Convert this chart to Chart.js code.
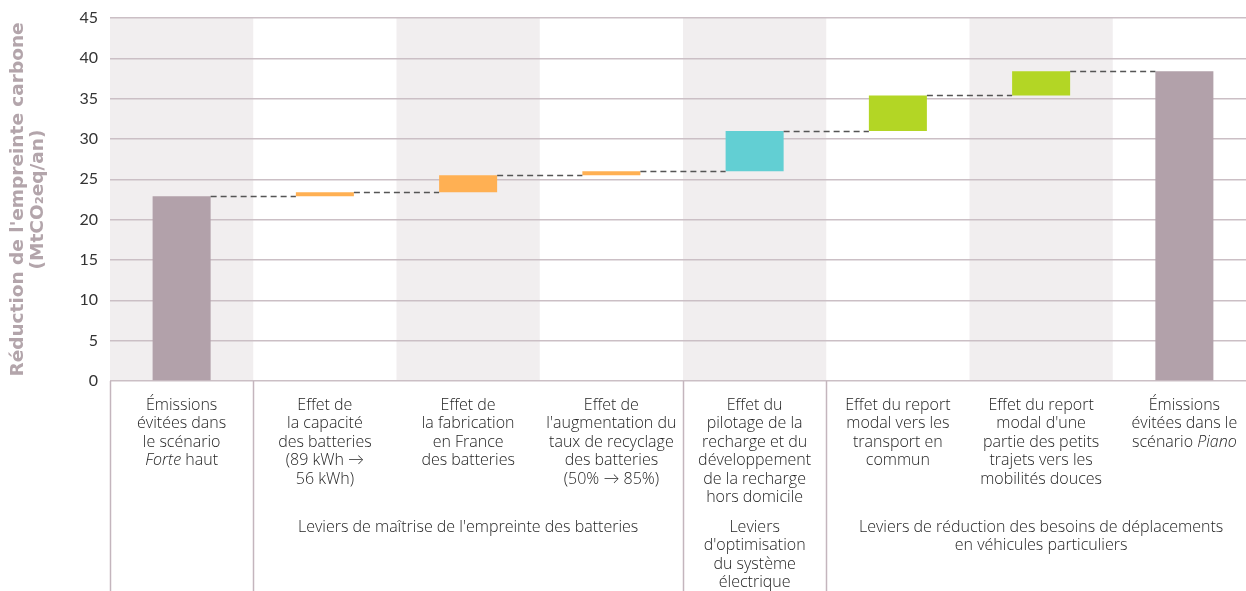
<!DOCTYPE html>
<html>
<head>
<meta charset="utf-8">
<script src="https://cdn.jsdelivr.net/npm/chart.js@4/dist/chart.umd.min.js"></script>
<style>
  html, body { margin: 0; padding: 0; background: #fff; overflow: hidden; }
  canvas { display: block; }
</style>
</head>
<body>
<canvas id="wf" width="1256" height="591"></canvas>
<script>
// categories (short names) and floating bar bounds, in MtCO2eq/an
const categories = ["Forte haut", "Capacité", "Fabrication", "Recyclage", "Pilotage", "Report TC", "Mobilités douces", "Piano"];
const barStart = [0, 22.9, 23.4, 25.5, 26.0, 31.0, 35.4, 0];
const barEnd = [22.9, 23.4, 25.5, 26.0, 31.0, 35.4, 38.4, 38.4];
const barColors = ["#b2a1aa", "#ffb053", "#ffb053", "#ffb053", "#62cfd3", "#b3d625", "#b3d625", "#b2a1aa"];
const yTicks = [0, 5, 10, 15, 20, 25, 30, 35, 40, 45];

// x-axis texts, *word* = italic
const catLabels = [
  ["Émissions", "évitées dans", "le scénario", "*Forte* haut"],
  ["Effet de", "la capacité", "des batteries", "(89 kWh →", "56 kWh)"],
  ["Effet de", "la fabrication", "en France", "des batteries"],
  ["Effet de", "l'augmentation du", "taux de recyclage", "des batteries", "(50% → 85%)"],
  ["Effet du", "pilotage de la", "recharge et du", "développement", "de la recharge", "hors domicile"],
  ["Effet du report", "modal vers les", "transport en", "commun"],
  ["Effet du report", "modal d'une", "partie des petits", "trajets vers les", "mobilités douces"],
  ["Émissions", "évitées dans le", "scénario *Piano*"]
];
const groups = [
  { from: 1, to: 3, lines: ["Leviers de maîtrise de l'empreinte des batteries"] },
  { from: 4, to: 4, lines: ["Leviers", "d'optimisation", "du système", "électrique"] },
  { from: 5, to: 7, lines: ["Leviers de réduction des besoins de déplacements", "en véhicules particuliers"] }
];
const dividerAfter = [-1, 0, 3, 4]; // vertical lines below the axis

const FONT = "Lato, 'Open Sans', sans-serif";
const LABEL_FONT = "'Open Sans', Lato, sans-serif";

function catWidth(chart) {
  const x = chart.scales.x;
  return x.getPixelForValue(1) - x.getPixelForValue(0);
}

const bandsPlugin = {
  id: "bands",
  beforeDraw(chart) {
    const { ctx, chartArea } = chart;
    const x = chart.scales.x;
    const w = catWidth(chart);
    ctx.save();
    ctx.fillStyle = "#f1eeef";
    categories.forEach((c, i) => {
      if (i % 2 !== 0) return;
      const cx = x.getPixelForValue(i);
      ctx.fillRect(cx - w / 2, chartArea.top, w, chartArea.bottom - chartArea.top);
    });
    ctx.restore();
  }
};

const connectorPlugin = {
  id: "connectors",
  afterDatasetsDraw(chart) {
    const { ctx } = chart;
    const y = chart.scales.y;
    const bars = chart.getDatasetMeta(0).data;
    ctx.save();
    ctx.strokeStyle = "#555";
    ctx.lineWidth = 1.5;
    ctx.setLineDash([6, 4]);
    for (let i = 0; i < bars.length - 1; i++) {
      const a = bars[i], b = bars[i + 1];
      const py = Math.round(y.getPixelForValue(barEnd[i])) + 0.5;
      ctx.beginPath();
      ctx.moveTo(a.x + a.width / 2, py);
      ctx.lineTo(b.x - b.width / 2, py);
      ctx.stroke();
    }
    ctx.restore();
  }
};

function drawRichLine(ctx, text, cx, cy, size) {
  const parts = text.split("*");
  const fonts = parts.map((p, k) => (k % 2 ? "italic 300 " : "300 ") + size + "px " + LABEL_FONT);
  let total = 0;
  parts.forEach((p, k) => { ctx.font = fonts[k]; total += ctx.measureText(p).width; });
  let xx = cx - total / 2;
  ctx.textAlign = "left";
  parts.forEach((p, k) => {
    ctx.font = fonts[k];
    ctx.fillText(p, xx, cy);
    xx += ctx.measureText(p).width;
  });
}

const labelsPlugin = {
  id: "xlabels",
  afterDraw(chart) {
    const { ctx, chartArea, height } = chart;
    const x = chart.scales.x;
    const w = catWidth(chart);
    const lh = 18.5;
    ctx.save();
    // dividers
    ctx.strokeStyle = "#c4b5bd";
    ctx.lineWidth = 1.5;
    dividerAfter.forEach(i => {
      const px = Math.round(x.getPixelForValue(i) + w / 2) + 0.5;
      ctx.beginPath();
      ctx.moveTo(px, chartArea.bottom);
      ctx.lineTo(px, height);
      ctx.stroke();
    });
    ctx.fillStyle = "#1e1e1e";
    ctx.textBaseline = "middle";
    catLabels.forEach((lines, i) => {
      const cx = x.getPixelForValue(i);
      lines.forEach((t, k) => drawRichLine(ctx, t, cx, chartArea.bottom + 24 + k * lh, 16));
    });
    groups.forEach(g => {
      const left = x.getPixelForValue(g.from) - w / 2;
      const right = Math.min(x.getPixelForValue(g.to) + w / 2, chartArea.right);
      const cx = (left + right) / 2;
      g.lines.forEach((t, k) => drawRichLine(ctx, t, cx, chartArea.bottom + 146 + k * lh, 16));
    });
    ctx.restore();
  }
};

new Chart(document.getElementById("wf"), {
  type: "bar",
  data: {
    labels: categories,
    datasets: [{
      data: categories.map((c, i) => [barStart[i], barEnd[i]]),
      backgroundColor: barColors,
      borderWidth: 0,
      categoryPercentage: 1,
      barPercentage: 0.405
    }]
  },
  options: {
    responsive: false,
    devicePixelRatio: 1,
    animation: false,
    layout: { padding: { top: 18, right: 0, bottom: 210, left: 0 } },
    plugins: { legend: { display: false }, tooltip: { enabled: false } },
    scales: {
      x: { display: false },
      y: {
        min: 0,
        max: 45,
        afterBuildTicks: s => { s.ticks = yTicks.map(v => ({ value: v })); },
        afterFit: s => { s.width = 110; },
        border: { display: false },
        grid: { color: "#cbbfc5", lineWidth: 1.5, drawTicks: true, tickLength: 12, tickColor: "rgba(0,0,0,0)" },
        ticks: { color: "#333", padding: 0, font: { family: FONT, size: 16 } },
        title: {
          display: true,
          text: ["Réduction de l'empreinte carbone", "(MtCO₂eq/an)"],
          color: "#b3a5ab",
          font: { family: "'DejaVu Sans', sans-serif", size: 18.5, weight: "bold", lineHeight: 1.1 },
          padding: { top: 8, bottom: 0 }
        }
      }
    }
  },
  plugins: [bandsPlugin, connectorPlugin, labelsPlugin]
});
</script>
</body>
</html>
